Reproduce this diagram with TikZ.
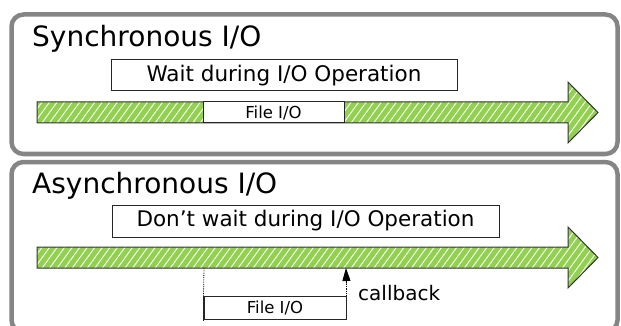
\documentclass[tikz,border=0pt]{standalone}
\usepackage{fontspec}
\setmainfont{DejaVu Sans}
\usetikzlibrary{patterns.meta,arrows.meta}
\definecolor{barGreen}{HTML}{92D050}
\definecolor{panelGray}{HTML}{858585}
\begin{document}
\begin{tikzpicture}[x=1pt,y=-1pt,
 panel/.style={draw=panelGray, line width=4.5, rounded corners=12, fill=white},
 bar/.style={preaction={fill=barGreen},
   preaction={pattern={Lines[angle=54,distance=6.1pt,line width=1pt]}, pattern color=white!90!barGreen},
   draw=black!80, line width=1},
 labelbox/.style={draw=black!85, line width=1, fill=white, inner sep=0, font=\fontsize{21.5}{26}\selectfont},
 titletext/.style={anchor=base west, inner sep=0, font=\fontsize{28}{34}\selectfont},
 fiobox/.style={draw=black!85, line width=1, fill=white, inner sep=0, font=\fontsize{16.5}{19}\selectfont},
 cbtext/.style={anchor=west, inner sep=0, font=\fontsize{20}{24}\selectfont}
]
\useasboundingbox (0,0) rectangle (621,326);
% panels
\draw[panel] (11.5,14.5) rectangle (617.5,154);
\draw[panel] (11.5,162) rectangle (617.5,332);

% ---- Synchronous ----
\node[titletext] (stitle) at (32,47) {Synchronous I/O};
\node[labelbox, minimum width=346, minimum height=31] (swait) at (284,75.5) {Wait during I/O Operation};
\draw[bar] (37,102) -- (568,102) -- (568,82) -- (598,112.5) -- (568,143) -- (568,123) -- (37,123) -- cycle;
\node[fiobox, minimum width=141, minimum height=21] (sfio) at (273.5,112.5) {File I/O};

% ---- Asynchronous ----
\node[titletext] (atitle) at (32,193) {Asynchronous I/O};
\node[labelbox, minimum width=387, minimum height=32] (await) at (305.5,221) {Don’t wait during I/O Operation};
\draw[bar] (37,247) -- (568,247) -- (568,227) -- (598,257.5) -- (568,288) -- (568,268) -- (37,268) -- cycle;
\node[fiobox, minimum width=142, minimum height=23] (afio) at (275,307.5) {File I/O};
\coordinate (startpt) at (204,268);
\coordinate (cbtop) at (346,268);
\draw[densely dotted, line width=0.8] (startpt) -- (afio.north west);
\draw[black!85, line width=1] (afio.north west) -- ++(0,25);
\draw[densely dotted, line width=0.8] (afio.north east) -- ++(0,-12) coordinate (cbmid);
\draw[-{Triangle[width=8,length=13]}, line width=0.8] (cbmid) -- (cbtop);
\node[cbtext] (cb) at (358,293) {callback};
\end{tikzpicture}
\end{document}
